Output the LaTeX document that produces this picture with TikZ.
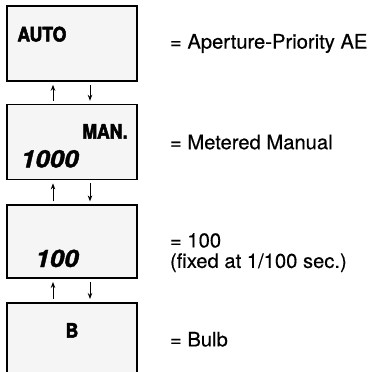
\documentclass[tikz,border=0pt]{standalone}
\usepackage{fontspec}
\setmainfont{TeX Gyre Heros}
\newfontfamily\lcdfont[FakeStretch=0.88, FakeBold=2.5]{TeX Gyre Heros}
\newfontfamily\segfont[FakeBold=1.5, FakeStretch=1.08]{TeX Gyre Heros}
\newfontfamily\modefont[FakeBold=0.4, FakeStretch=1.01]{TeX Gyre Heros}
\usetikzlibrary{arrows.meta, positioning}

\begin{document}
\begin{tikzpicture}[x=1pt, y=-1pt,
  lcd/.style={draw=black, line width=1.6pt, fill=black!4,
    minimum width=130pt, minimum height=73pt, inner sep=0pt},
  flag/.style={font=\lcdfont\fontsize{20}{20}\selectfont\bfseries, inner sep=0pt},
  seg/.style={font=\segfont\fontsize{24}{24}\selectfont\bfseries\itshape, inner sep=0pt},
  mode/.style={font=\modefont\fontsize{20}{20.5}\selectfont, align=left, inner sep=0pt},
  swap/.style={-{Stealth[length=6pt,width=4.5pt]}, line width=0.9pt,
    shorten <=3pt, shorten >=3pt}]
  \useasboundingbox (0,0) rectangle (369,372);

  % display panels
  \node[lcd, minimum height=75pt] (box1) at (72,43.5) {};
  \node[lcd, minimum height=75pt, below=22pt of box1] (box2) {};
  \node[lcd, below=24pt of box2] (box3) {};
  \node[lcd, below=23pt of box3] (box4) {};

  \node[flag, anchor=west] (auto) at ([xshift=11pt,yshift=-29pt]box1.north west) {AUTO};
  \node[flag, anchor=north east] (man) at ([xshift=-10pt,yshift=-20pt]box2.north east) {MAN.};
  \node[seg, anchor=base east] (speed) at ([xshift=-59pt,yshift=13pt]box2.south east) {1000};
  \node[seg, anchor=base east] (fixed) at ([xshift=-59pt,yshift=12pt]box3.south east) {100};
  \node[flag] (bulb) at ([yshift=9pt]box4.center) {B};

  % cycling arrows
  \foreach \a/\b in {box1/box2, box2/box3, box3/box4} {
    \draw[swap] ([xshift=-19pt]\b.north) -- ([xshift=-19pt]\a.south);
    \draw[swap] ([xshift=18pt]\a.south) -- ([xshift=18pt]\b.north);
  }

  % meanings
  \node[mode, right=32pt of box1] (m1) {= Aperture-Priority AE};
  \node[mode, right=32pt of box2] (m2) {= Metered Manual};
  \node[mode, right=32pt of box3, yshift=-11pt] (m3) {= 100\\(fixed at 1/100 sec.)};
  \node[mode, right=32pt of box4] (m4) {= Bulb};
\end{tikzpicture}
\end{document}
